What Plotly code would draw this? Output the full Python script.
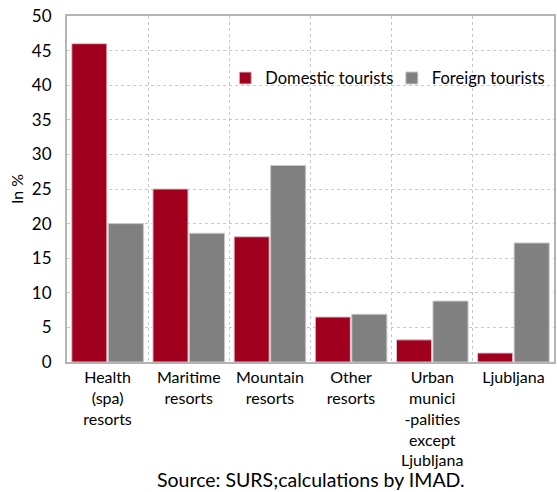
import plotly.graph_objects as go

categories = [
    "Health<br>(spa)<br>resorts",
    "Maritime<br>resorts",
    "Mountain<br>resorts",
    "Other<br>resorts",
    "Urban<br>munici<br>-palities<br>except<br>Ljubljana",
    "Ljubljana",
]
domestic = [46.0, 25.0, 18.1, 6.5, 3.2, 1.3]
foreign = [20.0, 18.6, 28.4, 6.9, 8.8, 17.2]
y_ticks = [0, 5, 10, 15, 20, 25, 30, 35, 40, 45, 50]

RED = "#A0001E"
GREY = "#808080"
FONT = "Lato"

fig = go.Figure()
fig.add_trace(go.Bar(
    name="Domestic tourists", x=categories, y=domestic, legend="legend",
    showlegend=True,
    marker=dict(color=RED, line=dict(color="#d9c3c6", width=1)),
))
fig.add_trace(go.Bar(
    name="Foreign tourists", x=categories, y=foreign, legend="legend2",
    showlegend=True,
    marker=dict(color=GREY, line=dict(color="#c8c8c8", width=1)),
))

legend_style = dict(
    orientation="h", y=0.82, xanchor="left", yanchor="middle",
    font=dict(size=16.5), bgcolor="rgba(0,0,0,0)",
)

fig.update_layout(
    width=557, height=492,
    showlegend=True,
    margin=dict(l=67, r=3, t=16, b=130, autoexpand=False),
    paper_bgcolor="white", plot_bgcolor="white",
    font=dict(family=FONT, size=16, color="black"),
    barmode="group", bargap=0.1, bargroupgap=0.04,
    legend=dict(x=0.325, **legend_style),
    legend2=dict(x=0.667, **legend_style),
    xaxis=dict(
        type="category", tickson="boundaries", ticks="", tickangle=0,
        showgrid=True, gridcolor="#c8c8c8", griddash="dot", gridwidth=1,
        showline=True, linecolor="#b4b4b4", linewidth=2, mirror=True,
        tickfont=dict(size=16),
    ),
    yaxis=dict(
        range=[0, 50], tickvals=y_ticks, ticks="",
        showgrid=True, gridcolor="#c8c8c8", griddash="dot", gridwidth=1,
        showline=True, linecolor="#b4b4b4", linewidth=2, mirror=True,
        ticklabelstandoff=10, zeroline=False,
        title=dict(text="In %", font=dict(size=16), standoff=4),
        tickfont=dict(size=17),
    ),
    annotations=[dict(
        text="Source: SURS;calculations by IMAD.",
        xref="paper", yref="paper", x=0.5, y=-0.34,
        xanchor="center", yanchor="middle", showarrow=False,
        font=dict(size=19.5),
    )],
)

fig.write_html("out.html")
